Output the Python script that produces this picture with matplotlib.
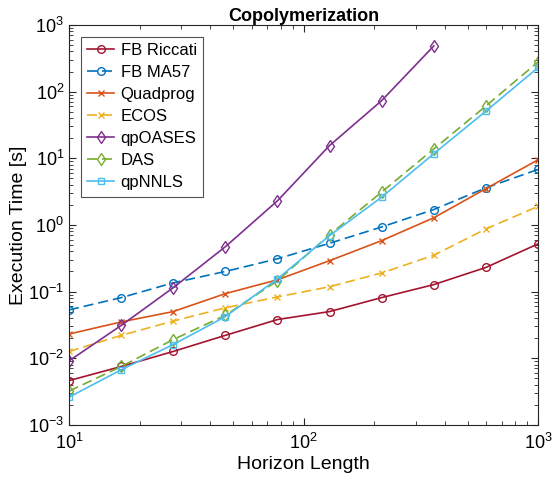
import numpy as np
import matplotlib
matplotlib.use('Agg')
import matplotlib.pyplot as plt

plt.rcParams['font.family'] = ['Liberation Sans', 'DejaVu Sans']
plt.rcParams['mathtext.fontset'] = 'custom'
plt.rcParams['mathtext.rm'] = 'Liberation Sans'
plt.rcParams['mathtext.it'] = 'Liberation Sans:italic'
plt.rcParams['mathtext.bf'] = 'Liberation Sans:bold'

#horizon lengths (logspace 10..1000)
N = [10, 16.7, 27.8, 46.4, 77.4, 129, 215, 359, 599, 1000]

#execution times [s]
t_riccati = [0.0046, 0.0075, 0.0126, 0.022, 0.038, 0.050, 0.081, 0.127, 0.23, 0.52]
t_ma57 = [0.053, 0.081, 0.135, 0.20, 0.31, 0.53, 0.93, 1.7, 3.6, 6.8]
t_quadprog = [0.023, 0.035, 0.05, 0.093, 0.15, 0.29, 0.58, 1.28, 3.5, 9.5]
t_ecos = [0.0126, 0.022, 0.036, 0.057, 0.083, 0.118, 0.19, 0.35, 0.87, 1.9]
t_qpoases = [0.0091, 0.031, 0.114, 0.47, 2.3, 15.5, 73, 485]
t_das = [0.0032, 0.0075, 0.019, 0.044, 0.145, 0.71, 3.1, 13.8, 61, 280]
t_nnls = [0.0026, 0.0067, 0.016, 0.042, 0.155, 0.69, 2.6, 11.7, 51, 230]

fig = plt.figure(figsize=(5.52, 4.8), dpi=100)
ax = fig.add_axes([0.125, 0.115, 0.85, 0.833])

ax.loglog(N, t_riccati, '-o', color=(0.635, 0.078, 0.184), mfc='none', ms=5.5, lw=1.2, label='FB Riccati')
ax.loglog(N, t_ma57, '--o', color=(0, 0.447, 0.741), mfc='none', ms=5.5, lw=1.2, dashes=(6, 3), label='FB MA57')
ax.loglog(N, t_quadprog, '-x', color=(0.85, 0.325, 0.098), ms=4.5, lw=1.2, label='Quadprog')
ax.loglog(N, t_ecos, '--x', color=(0.929, 0.694, 0.125), ms=4.5, lw=1.2, dashes=(6, 3), label='ECOS')
ax.loglog(N[:len(t_qpoases)], t_qpoases, '-d', color=(0.494, 0.184, 0.556), mfc='none', ms=6, lw=1.2, label='qpOASES')
ax.loglog(N, t_das, '--d', color=(0.466, 0.674, 0.188), mfc='none', ms=6, lw=1.2, dashes=(6, 3), label='DAS')
ax.loglog(N, t_nnls, '-s', color=(0.301, 0.745, 0.933), mfc='none', ms=4.5, lw=1.2, label='qpNNLS')

ax.set_xlim(10, 1000)
ax.set_ylim(1e-3, 1e3)
for s in ax.spines.values():
    s.set_color('0.15')
    s.set_linewidth(0.8)
ax.tick_params(which='both', direction='in', top=True, right=True, labelsize=13, color='0.15')
ax.tick_params(which='major', length=5)
ax.tick_params(which='minor', length=3)
ax.tick_params(axis='x', pad=6)
ax.set_xlabel('Horizon Length', fontsize=14, labelpad=2)
ax.set_ylabel('Execution Time [s]', fontsize=14, labelpad=1)
ax.set_title('Copolymerization', fontsize=13, fontweight='bold', pad=3)
leg = ax.legend(loc='upper left', fontsize=12, fancybox=False, edgecolor='0.15',
                handlelength=1.6, handletextpad=0.4, labelspacing=0.42,
                borderaxespad=0.7, borderpad=0.4)
leg.get_frame().set_linewidth(0.8)

fig.savefig('out.png', dpi=100)
